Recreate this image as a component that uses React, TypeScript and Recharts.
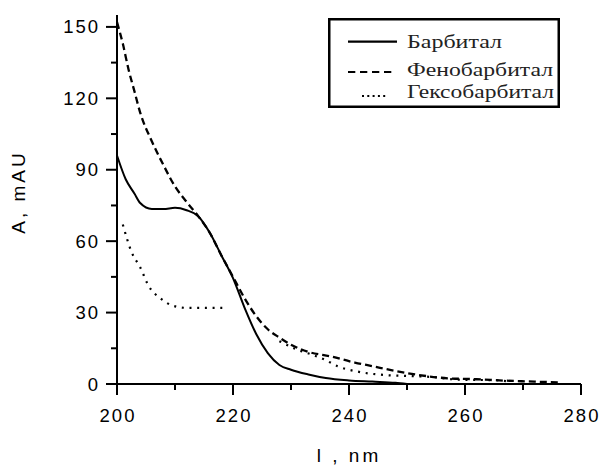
import { Label, Legend, Line, LineChart, XAxis, YAxis } from "recharts";

// UV spectra of three barbiturates.
const barbitalX = [200, 201.5, 203, 204, 206, 208, 210, 212, 214, 216, 218, 220, 222, 224, 226, 228, 230, 233, 236, 240, 244, 248, 250];
const barbitalY = [96, 86, 80, 76, 73.5, 73.5, 74, 73, 70.5, 63.5, 54, 44.5, 32, 21, 13, 8, 6, 4, 2.5, 1.5, 1, 0.5, 0];

const phenoX = [200, 201, 202, 203, 204, 206, 208, 210, 212, 214, 216, 218, 220, 222, 224, 226, 228, 230, 233, 237, 241, 244, 248, 252, 257, 262, 267, 272, 276];
const phenoY = [152, 143, 132, 123, 114, 102, 92, 83, 76.5, 70.5, 63.5, 54, 45, 36, 28.5, 23, 19.5, 16.5, 13.5, 11.5, 9, 7.5, 5.5, 3.8, 2.4, 2, 1.4, 1, 0.7];

// null marks the gap between the two recorded pieces
const hexoX = [201, 202.5, 204, 205.5, 207.5, 209.5, 212, 215, 219, 223, 228, 231, 234, 236, 238, 241.5, 246, 250, 254, 259, 265, 268];
const hexoY = [67, 55.5, 49, 41, 36, 33, 32, 32, 32, null, 18, 14.5, 12, 10, 7.5, 5.2, 3.8, 3.4, 3, 1.8, 1.6, 1];

const seriesNames = ["Барбитал", "Фенобарбитал", "Гексобарбитал"];
const xTicks = [200, 210, 220, 230, 240, 250, 260, 270, 280];
const yTicks = [0, 15, 30, 45, 60, 75, 90, 105, 120, 135, 150];

const rows = (xs: number[], ys: (number | null)[]) => xs.map((x, i) => ({ x, y: ys[i] }));

const SANS = "'Liberation Sans', Arial, sans-serif";
const SERIF = "'Liberation Serif', 'Times New Roman', serif";

const styles = [
  { dash: undefined, width: 2, legendDash: undefined, x1: 20, x2: 69, ly: 23.7, base: 30, len: 95 },
  { dash: "7 4", width: 2.3, legendDash: "7.3 4.7", x1: 20, x2: 64, ly: 54, base: 58, len: 146 },
  { dash: "2 5.7", width: 2.2, legendDash: "2 3.3", x1: 34, x2: 60, ly: 78, base: 79.5, len: 147 },
];

function XTick({ x, y, payload }: any) {
  const major = payload.value % 20 === 0;
  return (
    <g>
      <line x1={x} x2={x} y1={y} y2={y + (major ? 11 : 6)} stroke="#000" strokeWidth={2} />
      {major && (
        <text x={x + 1} y={y + 38} textAnchor="middle" fontFamily={SANS} fontSize={18.5} letterSpacing={2} fill="#000">
          {payload.value}
        </text>
      )}
    </g>
  );
}

function YTick({ x, y, payload }: any) {
  const major = payload.value % 30 === 0;
  return (
    <g>
      <line x1={x} x2={x - (major ? 11 : 6)} y1={y} y2={y} stroke="#000" strokeWidth={2} />
      {major && (
        <text x={x - 17} y={y + 6.5} textAnchor="end" fontFamily={SANS} fontSize={18.5} letterSpacing={2} fill="#000">
          {payload.value}
        </text>
      )}
    </g>
  );
}

function LegendBox() {
  return (
    <svg width={232} height={90}>
      <rect x={1.25} y={1.25} width={229.5} height={87.5} fill="#fff" stroke="#000" strokeWidth={2.5} />
      {seriesNames.map((name, i) => {
        const s = styles[i];
        return (
          <g key={name}>
            <line x1={s.x1} x2={s.x2} y1={s.ly} y2={s.ly} stroke="#000" strokeWidth={2.2} strokeDasharray={s.legendDash} />
            <text x={79} y={s.base} fontFamily={SERIF} fontSize={19.5} fill="#222" textLength={s.len} lengthAdjust="spacingAndGlyphs">
              {name}
            </text>
          </g>
        );
      })}
    </svg>
  );
}

export default function App() {
  const data = [rows(barbitalX, barbitalY), rows(phenoX, phenoY), rows(hexoX, hexoY)];
  return (
    <div style={{ position: "absolute", left: 0, top: 0, width: 601, height: 467, background: "#fff" }}>
      <LineChart width={601} height={467} margin={{ top: 15, right: 20, bottom: 53, left: 57 }}>
        <XAxis
          type="number"
          dataKey="x"
          domain={[200, 280]}
          ticks={xTicks}
          interval={0}
          tickSize={0}
          tickMargin={0}
          tickLine={false}
          axisLine={{ stroke: "#000", strokeWidth: 2 }}
          tick={<XTick />}
          height={30}
          allowDataOverflow
        >
          <Label
            content={({ viewBox }: any) => (
              <text
                x={viewBox.x + viewBox.width / 2}
                y={462}
                textAnchor="middle"
                fontFamily={SANS}
                fontSize={19}
                letterSpacing={3}
                fill="#000"
              >
                l , nm
              </text>
            )}
          />
        </XAxis>
        <YAxis
          type="number"
          domain={[0, 155]}
          ticks={yTicks}
          interval={0}
          tickSize={0}
          tickMargin={0}
          tickLine={false}
          axisLine={{ stroke: "#000", strokeWidth: 2 }}
          tick={<YTick />}
          width={60}
          allowDataOverflow
        >
          <Label
            content={() => (
              <text
                x={18}
                y={192}
                transform="rotate(-90 18 192)"
                textAnchor="middle"
                dominantBaseline="central"
                fontFamily={SANS}
                fontSize={19}
                letterSpacing={3}
                fill="#000"
              >
                A, mAU
              </text>
            )}
          />
        </YAxis>
        <Legend
          layout="vertical"
          align="center"
          verticalAlign="middle"
          wrapperStyle={{ left: 328, top: 18, width: 232, height: 90 }}
          content={() => <LegendBox />}
        />
        {seriesNames.map((name, i) => (
          <Line
            key={name}
            name={name}
            data={data[i]}
            dataKey="y"
            type="monotone"
            stroke="#000"
            strokeWidth={styles[i].width}
            strokeDasharray={styles[i].dash}
            dot={false}
            activeDot={false}
            connectNulls={false}
            isAnimationActive={false}
          />
        ))}
      </LineChart>
    </div>
  );
}
